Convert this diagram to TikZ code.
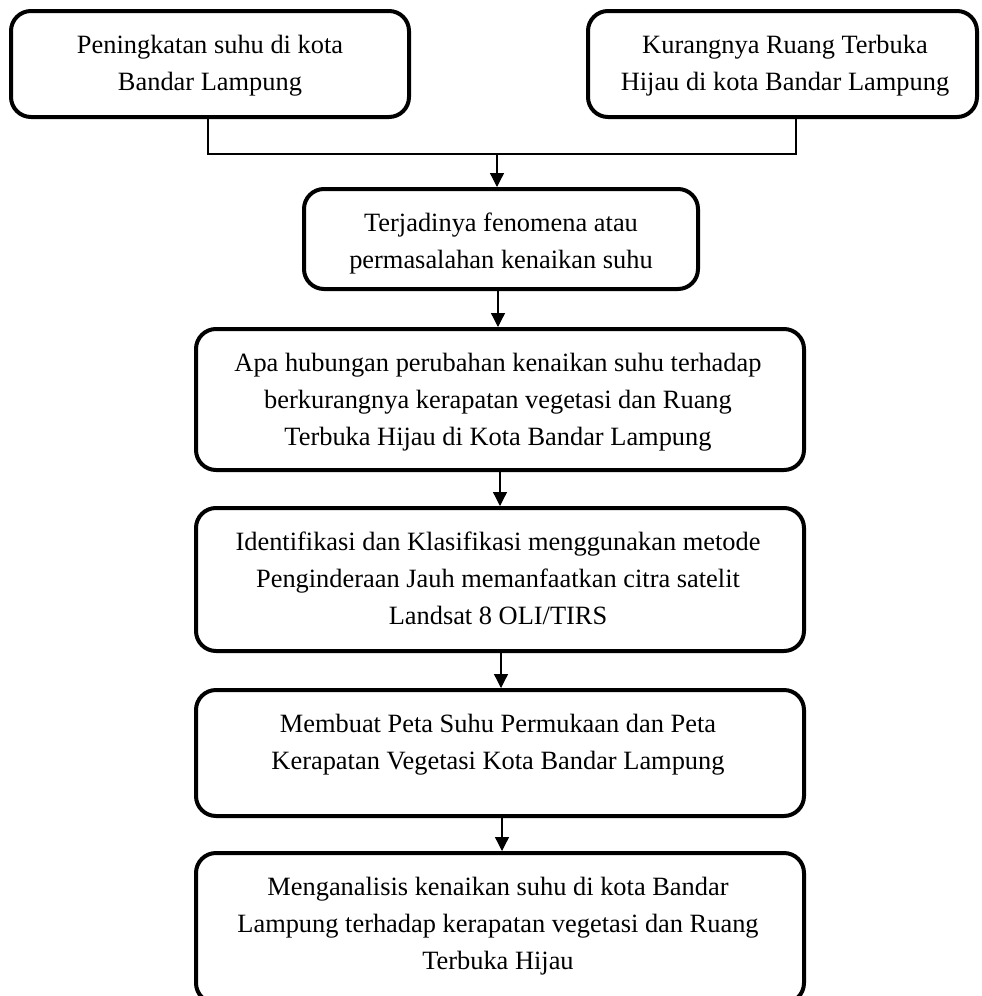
\documentclass[tikz,border=0pt]{standalone}
\usepackage{fontspec}
\setmainfont{Liberation Serif}[Ligatures=CommonOff]
\usetikzlibrary{arrows.meta}
\begin{document}
\begin{tikzpicture}[x=1pt,y=-1pt,
  box/.style={draw=black, line width=4pt, rounded corners=20pt, inner sep=0pt, fill=white},
  txt/.style={align=center, inner sep=0pt, anchor=north, font=\fontsize{26.4}{37}\selectfont},
  conn/.style={draw=black, line width=1.3pt},
  arr/.style={conn, -{Triangle[width=14pt,length=14pt]}}]
\useasboundingbox (0,0) rectangle (982,996);
\fill[white] (0,0) rectangle (982,996);
% boxes
\node[box, minimum width=398pt, minimum height=106pt] (b1) at (210,64) {};
\node[box, minimum width=389pt, minimum height=106pt] (b2) at (782.5,64) {};
\node[box, minimum width=394pt, minimum height=100pt] (b3) at (501,239) {};
\node[box, minimum width=608pt, minimum height=141pt] (b4) at (500,399.5) {};
\node[box, minimum width=608pt, minimum height=143pt] (b5) at (500,579.5) {};
\node[box, minimum width=608pt, minimum height=126pt] (b6) at (500,753) {};
\node[box, minimum width=608pt, minimum height=150pt] (b7) at (500,928) {};
% texts
\node[txt] (t1) at (210,33.5) {\rule{0pt}{20pt}Peningkatan suhu di kota\\Bandar Lampung};
\node[txt] (t2) at (785,33.5) {\rule{0pt}{20pt}Kurangnya Ruang Terbuka\\Hijau di kota Bandar Lampung};
\node[txt] (t3) at (501,211.5) {\rule{0pt}{20pt}Terjadinya fenomena atau\\permasalahan kenaikan suhu};
\node[txt] (t4) at (498,351.5) {\rule{0pt}{20pt}Apa hubungan perubahan kenaikan suhu terhadap\\berkurangnya kerapatan vegetasi dan Ruang\\Terbuka Hijau di Kota Bandar Lampung};
\node[txt] (t5) at (498,530.5) {\rule{0pt}{20pt}Identifikasi dan Klasifikasi menggunakan metode\\Penginderaan Jauh memanfaatkan citra satelit\\Landsat 8 OLI/TIRS};
\node[txt] (t6) at (498,712.5) {\rule{0pt}{20pt}Membuat Peta Suhu Permukaan dan Peta\\Kerapatan Vegetasi Kota Bandar Lampung};
\node[txt] (t7) at (498,875.5) {\rule{0pt}{20pt}Menganalisis kenaikan suhu di kota Bandar\\Lampung terhadap kerapatan vegetasi dan Ruang\\Terbuka Hijau};
% connectors
\coordinate (j1) at (208,154);
\coordinate (j2) at (796,154);
\coordinate (ja) at (497,154);
\draw[conn] (b1.south -| j1) -- (j1) -- (j2) -- (b2.south -| j2);
\draw[arr] (ja) -- (b3.north -| ja);
\draw[arr] (b3.south -| 498,0) -- (b4.north -| 498,0);
\draw[arr] (b4.south -| 500,0) -- (b5.north -| 500,0);
\draw[arr] (b5.south -| 501,0) -- (b6.north -| 501,0);
\draw[arr] (b6.south -| 502,0) -- (b7.north -| 502,0);
\end{tikzpicture}
\end{document}
